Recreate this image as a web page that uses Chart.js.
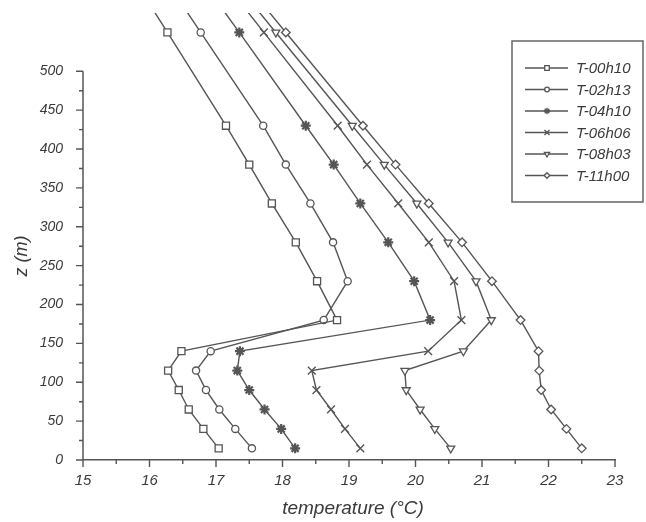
<!DOCTYPE html>
<html>
<head>
<meta charset="utf-8">
<script src="https://cdn.jsdelivr.net/npm/chart.js@4/dist/chart.umd.min.js"></script>
<style>
  html, body { margin: 0; padding: 0; background: #fff; }
  #wrap { width: 646px; height: 522px; }
</style>
</head>
<body>
<div id="wrap"><canvas id="chart" width="646" height="522"></canvas></div>
<script>
// heights (m) of the sounding levels, top one runs off the plot
const heights = [15, 40, 65, 90, 115, 140, 180, 230, 280, 330, 380, 430, 550, 600];

const t0010 = [17.04, 16.81, 16.59, 16.44, 16.28, 16.48, 18.82, 18.52, 18.20, 17.84, 17.50, 17.15, 16.27, 15.90];
const t0213 = [17.54, 17.29, 17.05, 16.85, 16.70, 16.92, 18.62, 18.98, 18.76, 18.42, 18.05, 17.71, 16.77, 16.38];
const t0410 = [18.19, 17.98, 17.73, 17.50, 17.32, 17.36, 20.22, 19.98, 19.59, 19.17, 18.77, 18.35, 17.35, 16.93];
const t0606 = [19.17, 18.94, 18.73, 18.51, 18.44, 20.19, 20.69, 20.58, 20.20, 19.74, 19.27, 18.83, 17.72, 17.26];
const t0803 = [20.53, 20.29, 20.07, 19.86, 19.84, 20.72, 21.14, 20.91, 20.49, 20.02, 19.53, 19.05, 17.90, 17.42];
const t1100 = [22.50, 22.27, 22.04, 21.89, 21.86, 21.85, 21.58, 21.15, 20.70, 20.20, 19.70, 19.21, 18.05, 17.57];

const seriesNames = ["T-00h10", "T-02h13", "T-04h10", "T-06h06", "T-08h03", "T-11h00"];
const xTicks = [15, 16, 17, 18, 19, 20, 21, 22, 23];
const yTicks = [0, 50, 100, 150, 200, 250, 300, 350, 400, 450, 500];
const yAxisTop = 500;
const yViewTop = 575;

const INK = "#555";
const TEXT = "#3a3a3a";
const FONT = "'Liberation Sans', Arial, sans-serif";

const markers = [
  { pointStyle: "rect", radius: 5, width: 1.3, rotation: 0 },
  { pointStyle: "circle", radius: 3.6, width: 1.3, rotation: 0 },
  { pointStyle: "star", radius: 5, width: 2.2, rotation: 0 },
  { pointStyle: "crossRot", radius: 5.5, width: 1.4, rotation: 0 },
  { pointStyle: "triangle", radius: 4.6, width: 1.3, rotation: 180 },
  { pointStyle: "rectRot", radius: 4.3, width: 1.3, rotation: 0 },
];

function profile(temps) {
  return temps.map((t, i) => ({ x: t, y: heights[i] }));
}

const datasets = [t0010, t0213, t0410, t0606, t0803, t1100].map((temps, i) => ({
  label: seriesNames[i],
  data: profile(temps),
  showLine: true,
  tension: 0,
  borderColor: INK,
  borderWidth: 1.4,
  pointStyle: markers[i].pointStyle,
  pointRadius: markers[i].radius,
  pointRotation: markers[i].rotation,
  pointBorderWidth: markers[i].width,
  pointBorderColor: INK,
  pointBackgroundColor: "#fff",
}));

// y axis line stops at 500, ticks outward, axis titles
const axisDecor = {
  id: "axisDecor",
  afterDraw(chart) {
    const { ctx, chartArea, scales } = chart;
    const x0 = chartArea.left;
    const yBase = scales.y.getPixelForValue(0);
    const yTop = scales.y.getPixelForValue(yAxisTop);
    ctx.save();
    ctx.strokeStyle = INK;
    ctx.lineWidth = 1.5;
    ctx.beginPath();
    ctx.moveTo(x0, yBase);
    ctx.lineTo(x0, yTop);
    ctx.stroke();

    ctx.lineWidth = 1.4;
    ctx.beginPath();
    for (let v = 0; v <= yAxisTop; v += 25) {
      const y = scales.y.getPixelForValue(v);
      const len = v % 50 === 0 ? 7 : 4;
      ctx.moveTo(x0 - len, y);
      ctx.lineTo(x0, y);
    }
    for (let v = 15; v <= 23; v += 0.5) {
      const x = scales.x.getPixelForValue(v);
      const len = v % 1 === 0 ? 7 : 4;
      ctx.moveTo(x, chartArea.bottom);
      ctx.lineTo(x, chartArea.bottom + len);
    }
    ctx.stroke();

    ctx.fillStyle = TEXT;
    ctx.textAlign = "center";
    ctx.textBaseline = "middle";
    ctx.font = "italic 19px " + FONT;
    ctx.fillText("temperature (\u00B0C)", (chartArea.left + chartArea.right) / 2 + 4, 509);
    ctx.translate(22, 256);
    ctx.rotate(-Math.PI / 2);
    ctx.font = "italic 18px " + FONT;
    ctx.fillText("z (m)", 0, 0);
    ctx.restore();
  },
};

// boxed legend: line - marker - line, then the label
const boxLegend = {
  id: "boxLegend",
  afterDraw(chart) {
    const { ctx } = chart;
    ctx.save();
    ctx.strokeStyle = "#666";
    ctx.lineWidth = 1.5;
    ctx.strokeRect(512, 41, 131, 161);
    ctx.font = "italic 15px " + FONT;
    ctx.textBaseline = "middle";
    chart.data.datasets.forEach((ds, i) => {
      const y = 68 + i * 21.5;
      ctx.strokeStyle = INK;
      ctx.lineWidth = 1.3;
      ctx.beginPath();
      ctx.moveTo(525, y);
      ctx.lineTo(568, y);
      ctx.stroke();
      ctx.fillStyle = "#fff";
      Chart.helpers.drawPoint(ctx, {
        pointStyle: ds.pointStyle,
        rotation: ds.pointRotation,
        radius: ds.pointRadius * 0.65,
        borderWidth: ds.pointBorderWidth * 0.9,
      }, 547, y);
      ctx.fillStyle = TEXT;
      ctx.fillText(ds.label, 576, y + 1);
    });
    ctx.restore();
  },
};

new Chart(document.getElementById("chart"), {
  type: "scatter",
  data: { datasets },
  options: {
    responsive: false,
    devicePixelRatio: 1,
    animation: false,
    layout: { padding: { top: 13, right: 31, bottom: 0, left: 0 } },
    plugins: { legend: { display: false }, tooltip: { enabled: false } },
    scales: {
      x: {
        type: "linear",
        min: 15,
        max: 23,
        afterBuildTicks: (s) => { s.ticks = xTicks.map((v) => ({ value: v })); },
        afterFit: (s) => { s.height = 62; s.paddingLeft = 0; s.paddingRight = 0; },
        grid: { drawOnChartArea: false, drawTicks: false },
        border: { color: INK, width: 1.5 },
        ticks: { padding: 12, color: TEXT, font: { family: FONT, size: 15, style: "italic" } },
      },
      y: {
        type: "linear",
        min: 0,
        max: yViewTop,
        afterBuildTicks: (s) => { s.ticks = yTicks.map((v) => ({ value: v })); },
        afterFit: (s) => { s.width = 83; s.paddingTop = 0; s.paddingBottom = 0; },
        grid: { drawOnChartArea: false, drawTicks: false },
        border: { display: false },
        ticks: { padding: 20, color: TEXT, font: { family: FONT, size: 14, style: "italic" } },
      },
    },
  },
  plugins: [axisDecor, boxLegend],
});
</script>
</body>
</html>
